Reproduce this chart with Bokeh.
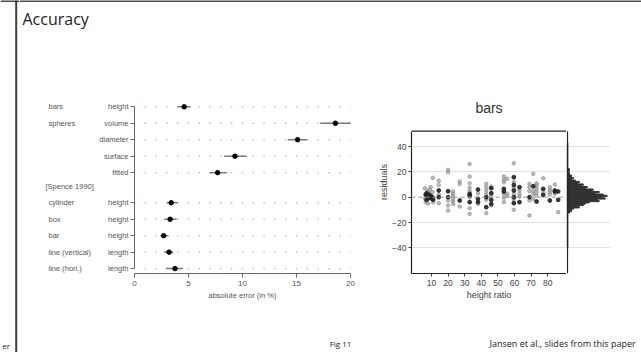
from bokeh.plotting import figure
from bokeh.layouts import row, column
from bokeh.models import Range1d, FixedTicker, Span, Grid, CustomJSTickFormatter
from bokeh.embed import file_html
from bokeh.resources import INLINE
from bokeh.core.properties import value

# ---------------- data: left chart (absolute error) ----------------
group_labels = ["bars", "spheres", "", "", "", "cylinder", "box", "bar", "line (vertical)", "line (hori.)"]
measure_labels = ["height", "volume", "diameter", "surface", "fitted",
                  "height", "height", "height", "length", "length"]
section_label = "[Spence 1990]"
error_mean = [4.6, 18.6, 15.1, 9.3, 7.7, 3.4, 3.3, 2.7, 3.2, 3.75]
error_low = [4.0, 17.2, 14.2, 8.3, 6.95, 3.0, 2.75, 2.4, 2.75, 2.9]
error_high = [5.2, 20.1, 16.0, 10.4, 8.55, 4.0, 3.9, 3.15, 3.6, 4.5]
error_ticks = [0, 5, 10, 15, 20]

# ---------------- data: right chart (residuals) ----------------
ratio_all = [6, 6.5, 7.5, 8, 9, 9.5, 10.5, 11, 8, 6, 10.8,
             14.4, 14.4, 14.4, 14.4,
             20, 20, 20, 20, 20,
             23, 23, 23, 23, 23, 23,
             27, 27, 27,
             33, 33, 33, 33, 33, 33, 33, 33,
             38, 38,
             43, 43, 43, 43, 43, 43,
             46, 46, 46,
             53.6, 53.6, 53.6, 53.6, 53.6, 53.6,
             55.6, 55.6, 55.6,
             59.6, 59.6, 59.6, 59.6, 59.6, 59.6,
             63, 63, 63,
             69, 69, 69, 69, 69,
             71.3, 71.3, 71.3, 71.3,
             73.3, 73.3, 73.3, 73.3, 73.3,
             77.3, 77.3,
             81.3, 81.3, 81.3, 81.3,
             84.3, 84.3,
             86.3]
resid_all = [7, -4, 5, -5, 6, 8, 4, -4, 4, -1, 15.3,
             13, 9.7, 2, -4.7,
             21.6, 19.7, -2.6, -6.6, -10.5,
             4.5, 2.6, 0.8, -1.3, -3.4, -5.3,
             12.4, 10.5, -7.4,
             26.3, 16.3, 11, 7.4, 4.7, 0, -8.7, -13.2,
             3, -5.3,
             10.5, 7.9, 5.3, 2.6, -2.1, -12.6,
             8.4, 1, -6.6,
             16.3, 13.7, 11.8, 2.6, -0.5, -3.9,
             14.5, 2.6, 0.8,
             26.8, 12.1, 7.9, 2.6, -2.1, -10,
             5.3, 2.6, 0.5,
             10.5, 7.9, 4.7, -2.6, -14.5,
             18.4, 5.3, 2.6, -1.3,
             11, 9.2, 6.6, 3.9, 1.3,
             15, 4,
             7.9, 5.8, 4, 2.1,
             10, 2.6,
             -11.8]
ratio_mean = [6.5, 7, 7.5, 8, 8.5, 9, 9.5, 10, 10.5, 11, 7,
              14.4, 14.4, 20, 20, 27, 33, 33, 33, 38, 38, 38, 43, 43,
              46, 46, 46, 46, 53.6, 53.6, 59.6, 59.6, 59.6, 59.6, 59.6,
              63, 63, 69, 71.3, 73.3, 77.3, 77.3, 81.3, 84.3, 84.3, 86.3, 86.3]
resid_mean = [2, 3, 1, -1, 2, 0, 1, -1, 0, -2, -2,
              5.3, 0, 4.7, 0, -2.6, 2.6, 1.3, -3.9, 6, -1.3, -3.9, -7.9, 0,
              7.1, 3.2, -2.1, -5.3, 6.6, 4.5, 15.8, 9.7, 5.3, 0, -4.7,
              7.9, -3.9, 0, 8.7, -3.4, 6.6, 1.8, -2.6, 5.3, 4.5, 4.5, -2.1]
ratio_ticks = [10, 20, 30, 40, 50, 60, 70, 80]
resid_ticks = [-40, -20, 0, 20, 40]
hist_bins = [-12, -11, -10, -9, -8, -7, -6, -5, -4, -3, -2, -1, 0, 1, 2, 3, 4, 5,
             6, 7, 8, 9, 10, 11, 12, 13, 14, 15, 16, 17, 18, 19, 20, 21, 22]
hist_counts = [1, 2, 2, 3, 6, 5, 8, 9, 11, 16, 15, 19, 17, 20, 18, 14, 16, 12,
               13, 9, 10, 7, 8, 5, 6, 4, 2, 3, 2, 2, 1, 1, 0, 1, 1]

# ---------------- layout constants (page pixels) ----------------
W, H = 641, 352
STRIP_W = 19
MAIN_W = W - STRIP_W
HEAD_H, BODY_H = 30, 272
FOOT_H = H - HEAD_H - BODY_H
BODY_Y0 = HEAD_H
TOP_B, BOT_B = 60, 29                      # shared borders of all body figures
FRAME_TOP = BODY_Y0 + TOP_B                # 90
FRAME_BOT = BODY_Y0 + BODY_H - BOT_B       # 273
PLOT_FONT = "Liberation Sans"
SLIDE_FONT = "Open Sans"


def blank(width, height, xr, yr, top=0, bottom=0, left=0, right=0):
    p = figure(width=width, height=height, x_range=xr, y_range=yr,
               output_backend="svg", toolbar_location=None,
               min_border_top=top, min_border_bottom=bottom,
               min_border_left=left, min_border_right=right,
               x_axis_location=None, y_axis_location=None)
    p.outline_line_color = None
    p.grid.visible = False
    return p


# ---- left strip: vertical rule, page edge text
strip = blank(STRIP_W, H, Range1d(0, STRIP_W), Range1d(H, 0))
strip.add_layout(Span(location=15.7, dimension="height", line_color="#404040", line_width=2))
strip.add_layout(Span(location=0.6, dimension="width", line_color="#111111", line_width=1.5))
strip.text(x=[9.5], y=[345], text=["er"], text_font=value(SLIDE_FONT), text_font_size="8px",
           text_align="right", text_baseline="middle", text_color="#222222")

# ---- header
header = blank(MAIN_W, HEAD_H, Range1d(STRIP_W, W), Range1d(HEAD_H, 0))
header.add_layout(Span(location=0.6, dimension="width", line_color="#111111", line_width=1.5))
header.text(x=[22], y=[18.5], text=["Accuracy"], text_font=value(SLIDE_FONT),
            text_font_size="16px", text_baseline="alphabetic", text_color="#222222")

# ---------------- left dot plot ----------------
GAP = 0.83
rows = [i + (GAP if i >= 5 else 0) for i in range(len(measure_labels))]
section_pos = 4 + 0.85
ROW0_Y, ROW_PX = 106.3, 16.46
y_top = -(ROW0_Y - FRAME_TOP) / ROW_PX
y_bot = (FRAME_BOT - ROW0_Y) / ROW_PX
ly = Range1d(y_bot, y_top)
X_MAX = 20
LAB_X0, LEFT_X0, LEFT_FRAME_X0, LEFT_FRAME_X1, SC_X0 = 19, 96, 134, 350, 362

left = figure(width=SC_X0 - LEFT_X0, height=BODY_H, x_range=Range1d(0, X_MAX), y_range=ly,
              output_backend="svg", toolbar_location=None,
              min_border_left=LEFT_FRAME_X0 - LEFT_X0, min_border_right=SC_X0 - LEFT_FRAME_X1,
              min_border_top=TOP_B, min_border_bottom=BOT_B)
left.outline_line_color = None
left.grid.visible = False

# dotted guide rows: one dot per unit along every row
dot_x = [u for r in rows for u in range(1, X_MAX + 1)]
dot_y = [r for r in rows for u in range(1, X_MAX + 1)]
left.scatter(x=dot_x, y=dot_y, marker="square", size=1.3, color="#b5b5b5", line_color=None)

left.xaxis.ticker = FixedTicker(ticks=error_ticks)
left.xaxis.bounds = (0, X_MAX)
left.xaxis.axis_label = "absolute error (in %)"
left.yaxis.ticker = FixedTicker(ticks=rows)
left.yaxis.bounds = (rows[0], rows[-1])
left.yaxis.formatter = CustomJSTickFormatter(args=dict(pos=rows, labs=measure_labels), code="""
let best = 0, bd = 1e9;
for (let i = 0; i < pos.length; i++) { const d = Math.abs(pos[i] - tick); if (d < bd) { bd = d; best = i; } }
return labs[best];
""")
for ax in (left.xaxis[0], left.yaxis[0]):
    ax.axis_line_color = "#666666"
    ax.major_tick_line_color = "#666666"
    ax.minor_tick_line_color = None
    ax.major_tick_out = 4
    ax.major_tick_in = 0
    ax.major_label_text_font = PLOT_FONT
    ax.major_label_text_color = "#555555"
    ax.axis_label_text_font = PLOT_FONT
    ax.axis_label_text_color = "#555555"
    ax.axis_label_text_font_style = "normal"
    ax.axis_label_text_font_size = "7.5px"
left.yaxis.major_label_text_font_size = "7.5px"
left.yaxis.major_label_standoff = 2
left.xaxis.major_label_text_font_size = "8px"
left.xaxis.major_label_standoff = 3
left.xaxis.axis_label_standoff = 2

left.segment(x0=error_low, y0=rows, x1=error_high, y1=rows, line_color="#7a7a7a", line_width=1.5)
left.scatter(x=error_mean, y=rows, size=4.5, color="black")

# group labels column (same frame and vertical scale as the dot plot)
labfig = blank(LEFT_X0 - LAB_X0, BODY_H, Range1d(LAB_X0, LEFT_X0), ly, top=TOP_B, bottom=BOT_B)
g_rows = [r for r, g in zip(rows, group_labels) if g]
g_text = [g for g in group_labels if g]
labfig.text(x=[48] * len(g_text), y=g_rows, text=g_text, text_font=value(PLOT_FONT),
            text_font_size="7.5px", text_baseline="middle", text_color="#555555")
labfig.text(x=[45], y=[section_pos], text=[section_label], text_font=value(PLOT_FONT),
            text_font_size="7.5px", text_baseline="middle", text_color="#555555")

# ---------------- right scatter ----------------
SC_FRAME_X0, SC_X1, HI_FRAME_X1 = 411, 566, 610
ZERO_Y, PX_PER_RES = 196.7, 1.265
BOX_TOP = 52.2
ZERO_X, PX_PER_RATIO = 414.4, 1.66
yr = Range1d(-(FRAME_BOT - ZERO_Y) / PX_PER_RES, (ZERO_Y - FRAME_TOP) / PX_PER_RES)
xr = Range1d(-(ZERO_X - SC_FRAME_X0) / PX_PER_RATIO, (SC_X1 - ZERO_X) / PX_PER_RATIO)
sc = figure(width=SC_X1 - SC_X0, height=BODY_H, x_range=xr, y_range=yr,
            output_backend="svg", toolbar_location=None,
            min_border_left=SC_FRAME_X0 - SC_X0, min_border_right=0,
            min_border_top=TOP_B, min_border_bottom=BOT_B)
sc.outline_line_color = None
sc.xgrid.visible = False
sc.ygrid.ticker = FixedTicker(ticks=[t for t in resid_ticks if t != 0])
sc.ygrid.grid_line_color = "#e2e2e2"
sc.xaxis.ticker = FixedTicker(ticks=ratio_ticks)
sc.yaxis.ticker = FixedTicker(ticks=resid_ticks)
sc.yaxis.bounds = (yr.start, BOX_TOP)
sc.yaxis.major_label_overrides = {t: ("\u2212" + str(-t) if t < 0 else str(t)) for t in resid_ticks}
sc.xaxis.axis_label = "height ratio"
sc.yaxis.axis_label = "residuals"
for ax in (sc.xaxis[0], sc.yaxis[0]):
    ax.axis_line_color = "#222222"
    ax.axis_line_width = 1.2
    ax.major_tick_line_color = "#333333"
    ax.minor_tick_line_color = None
    ax.major_tick_out = 3
    ax.major_tick_in = 0
    ax.major_label_text_font = PLOT_FONT
    ax.major_label_text_font_size = "8.5px"
    ax.major_label_text_color = "#444444"
    ax.axis_label_text_font = PLOT_FONT
    ax.axis_label_text_font_size = "9px"
    ax.axis_label_text_font_style = "normal"
    ax.axis_label_text_color = "#444444"
sc.xaxis.major_label_standoff = 3
sc.xaxis.axis_label_standoff = 1
sc.yaxis.major_label_standoff = 2
sc.yaxis.axis_label_standoff = 0
sc.add_layout(Span(location=BOX_TOP, dimension="width", line_color="#222222", line_width=1.2))
sc.add_layout(Span(location=0, dimension="width", line_color="#999999", line_dash="4 3", line_width=1))
sc.text(x=[(xr.start + xr.end) / 2], y=[(ZERO_Y - 107) / PX_PER_RES], text=["bars"],
        text_font=value(PLOT_FONT), text_font_size="14px", text_align="center",
        text_baseline="middle", text_color="#333333")
sc.scatter(x=ratio_all, y=resid_all, size=3.6, color="#8c8c8c", alpha=0.6)
sc.scatter(x=ratio_mean, y=resid_mean, size=3.8, color="#222222", alpha=0.9)

# ---------------- marginal histogram ----------------
HI_PX_PER_COUNT = 1.98
hist = blank(W - SC_X1, BODY_H,
             Range1d(-1 / HI_PX_PER_COUNT, (HI_FRAME_X1 - SC_X1 - 1) / HI_PX_PER_COUNT), yr,
             top=TOP_B, bottom=BOT_B, right=W - HI_FRAME_X1)
hist.add_layout(Grid(dimension=1, ticker=FixedTicker(ticks=[t for t in resid_ticks if t != 0]),
                     grid_line_color="#e2e2e2"))
hist.hbar(y=hist_bins, left=0, right=hist_counts, height=1, color="#333333")
hist.segment(x0=[0], y0=[yr.start], x1=[0], y1=[BOX_TOP], line_color="#222222", line_width=1.2)
hist.segment(x0=[0], y0=[-40.5], x1=[0], y1=[43], line_color="#222222", line_width=1.6)

# ---------------- footer ----------------
footer = blank(MAIN_W, FOOT_H, Range1d(STRIP_W, W), Range1d(H, H - FOOT_H))
footer.text(x=[340], y=[343], text=["Fig 11"], text_font=value(SLIDE_FONT), text_font_size="8px",
            text_align="center", text_baseline="middle", text_color="#222222")
footer.text(x=[489], y=[343], text=["Jansen et al., slides from this paper"], text_font=value(SLIDE_FONT),
            text_font_size="9px", text_baseline="middle", text_color="#222222")

layout = row(strip, column(header, row(labfig, left, sc, hist), footer))
open("out.html", "w").write(file_html(layout, INLINE))
